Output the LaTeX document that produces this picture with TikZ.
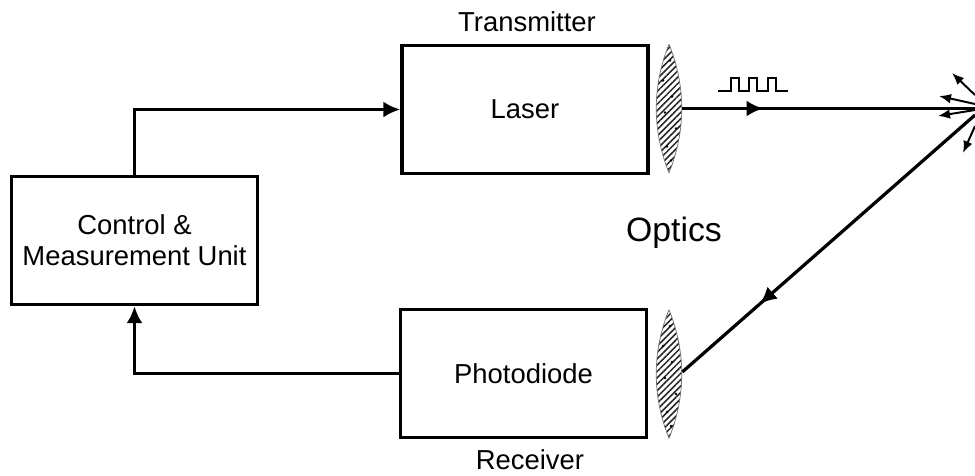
\documentclass[tikz,border=0pt]{standalone}
\usepackage{fontspec}
\setmainfont{Liberation Sans}
\usetikzlibrary{arrows.meta}
\usetikzlibrary{decorations.markings, patterns.meta}
\usetikzlibrary{shapes.geometric}
\tikzset{
  unitbox/.style={draw, line width=2.5pt, minimum width=6.15cm, minimum height=3.2cm, align=center, font=\fontsize{19.5}{22}\selectfont},
  caption/.style={font=\fontsize{19.5}{22}\selectfont},
  link/.style={line width=2.3pt, -{Latex[length=0.42cm,width=0.4cm]}},
  beam/.style={line width=2.3pt, postaction={decorate}, decoration={markings, mark=at position #1 with {\arrow{Latex[length=0.42cm,width=0.4cm]}}}},
  scatter/.style={line width=1.4pt, -{Latex[length=0.3cm,width=0.24cm]}},
  lensnode/.style={ellipse, minimum width=0.65cm, minimum height=3.2cm, inner sep=0pt},
  lensfill/.style={draw=black!55, line width=0.5pt, pattern={Lines[angle=45,distance=3.2pt,line width=1.1pt]}, pattern color=black!85}
}
\newcommand{\lens}[2]{
  \node[lensnode] (#1) at (#2) {};
  \draw[lensfill] (#1.north) .. controls +(17,42) and +(17,-42) .. (#1.south)
    .. controls +(-17,-42) and +(-17,42) .. (#1.north);
  \foreach \dx/\dy in {1/-48,-6/-28,3/-12,-4/4,7/20,-2/38,2/52}{
    \fill[black] (#1.center) ++(\dx,\dy) circle (1.3);
  }
}
\begin{document}
\begin{tikzpicture}[x=0.025cm,y=-0.025cm]
\useasboundingbox (0,0) rectangle (975,475);

\node[unitbox] (laser) at (525,109.5) {Laser};
\node[unitbox] (control) at (134.5,240.5) {Control \&\\Measurement Unit};
\node[unitbox] (photo) at (523.5,373.5) {Photodiode};
\lens{txlens}{669,108.5}
\lens{rxlens}{669,374}

\node[caption] (txlabel) at (527,22) {Transmitter};
\node[caption] (rxlabel) at (530,460) {Receiver};
\node[font=\fontsize{24}{28}\selectfont] (optics) at (674,233) {Optics};

\coordinate (hit) at (975,108.5);
\coordinate (back) at (975,115);
\coordinate (rxend) at (rxlens.east |- 0,372);

\draw[link] (control.north) |- (laser.west);
\draw[link] (photo.west) -| (control.south);
\draw[beam=0.277] (txlens.east) -- (hit);
\draw[beam=0.735] (back) -- (rxend);

% scattered light
\coordinate (s1) at (952,73);
\coordinate (s2) at (939,96);
\coordinate (s3) at (938,116);
\coordinate (s4) at (963,153);
\draw[scatter] (975,95) -- (s1);
\draw[scatter] (975,104) -- (s2);
\draw[scatter] (975,110) -- (s3);
\draw[scatter] (975,126) -- (s4);

% pulse train
\draw[line width=1.2pt] (718,91) -- (731,91) -- (731,78) -- (739,78) -- (739,91) -- (749,91) -- (749,78)
  -- (757,78) -- (757,91) -- (768,91) -- (768,78) -- (776,78) -- (776,91) -- (788,91);
\end{tikzpicture}
\end{document}
